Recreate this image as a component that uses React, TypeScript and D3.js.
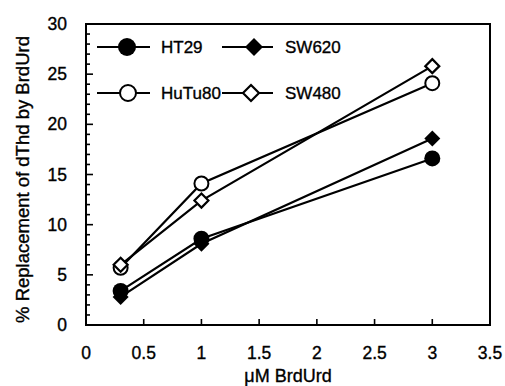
import React from "react";
import * as d3 from "d3";

const doses = [0.3, 1, 3];
const ht29 = [3.4, 8.6, 16.6];
const sw620 = [2.8, 8.1, 18.6];
const hutu80 = [5.7, 14.1, 24.1];
const sw480 = [6.0, 12.4, 25.8];
const xTicks = [0, 0.5, 1, 1.5, 2, 2.5, 3, 3.5];
const xTickLabels = ["0", "0.5", "1", "1.5", "2", "2.5", "3", "3.5"];
const yTicks = [0, 5, 10, 15, 20, 25, 30];
const seriesNames = ["HT29", "SW620", "HuTu80", "SW480"];

const W = 505;
const H = 386;
const L = 86, R = 490, T = 24, B = 325;
const FONT = "'Liberation Sans', Arial, Helvetica, sans-serif";
const TXT = { fill: "#000", stroke: "#000", strokeWidth: 0.35 };

function Marker({ kind, cx, cy, r }: { kind: string; cx: number; cy: number; r: number }) {
  const filled = kind === "fc" || kind === "fd";
  const fill = filled ? "#000" : "#fff";
  if (kind === "fc" || kind === "oc") {
    return <circle cx={cx} cy={cy} r={filled ? r : r - 1} fill={fill} stroke="#000" strokeWidth={filled ? 0 : 2} />;
  }
  const s = filled ? r : r - 1;
  const pts = `${cx},${cy - s} ${cx + s},${cy} ${cx},${cy + s} ${cx - s},${cy}`;
  return <polygon points={pts} fill={fill} stroke="#000" strokeWidth={filled ? 0 : 2.2} strokeLinejoin="miter" />;
}

export default function App() {
  const x = d3.scaleLinear().domain([0, 3.5]).range([L, R]);
  const y = d3.scaleLinear().domain([0, 30]).range([B, T]);
  const line = d3
    .line<[number, number]>()
    .x((d) => x(d[0]))
    .y((d) => y(d[1]));

  const series = [
    { name: seriesNames[0], vals: ht29, kind: "fc" },
    { name: seriesNames[1], vals: sw620, kind: "fd" },
    { name: seriesNames[2], vals: hutu80, kind: "oc" },
    { name: seriesNames[3], vals: sw480, kind: "od" },
  ];

  const minorY = d3.range(0, 31, 1);

  const legend = [
    { s: series[0], lx1: 97, lx2: 150, mx: 127, tx: 161, y: 47 },
    { s: series[1], lx1: 222, lx2: 273, mx: 254, tx: 285, y: 47 },
    { s: series[2], lx1: 97, lx2: 150, mx: 128, tx: 161, y: 93 },
    { s: series[3], lx1: 222, lx2: 273, mx: 251, tx: 285, y: 93 },
  ];

  return (
    <svg width={W} height={H} style={{ position: "absolute", left: 0, top: 0, background: "#fff" }} fontFamily={FONT}>
      <rect x={0} y={0} width={W} height={H} fill="#fff" />
      {minorY.map((v) => (
        <line key={"my" + v} x1={L} x2={L + (v % 5 === 0 ? 7 : 4)} y1={y(v)} y2={y(v)} stroke="#000" strokeWidth={1.6} />
      ))}
      {xTicks.map((v) => (
        <line key={"xt" + v} x1={x(v)} x2={x(v)} y1={B} y2={B - 6} stroke="#000" strokeWidth={1.6} />
      ))}
      <rect x={L} y={T} width={R - L} height={B - T} fill="none" stroke="#000" strokeWidth={2} />
      {yTicks.map((v) => (
        <text key={"yl" + v} x={67} y={y(v)} dy="0.35em" textAnchor="end" fontSize={17.5} {...TXT}>
          {v}
        </text>
      ))}
      {xTicks.map((v, i) => (
        <text key={"xl" + v} x={x(v)} y={353} dy="0.35em" textAnchor="middle" fontSize={17.5} {...TXT}>
          {xTickLabels[i]}
        </text>
      ))}
      <text x={(L + R) / 2} y={382} textAnchor="middle" fontSize={18} {...TXT}>
        μM BrdUrd
      </text>
      <text transform={`translate(29,${(T + B) / 2 + 5}) rotate(-90)`} textAnchor="middle" fontSize={18.5} {...TXT}>
        % Replacement of dThd by BrdUrd
      </text>
      {series.map((s) => (
        <path
          key={"l" + s.name}
          d={line(doses.map((d, i) => [d, s.vals[i]]) as [number, number][]) || ""}
          fill="none"
          stroke="#000"
          strokeWidth={2.2}
        />
      ))}
      {series.map((s) =>
        doses.map((d, i) => <Marker key={s.name + i} kind={s.kind} cx={x(d)} cy={y(s.vals[i])} r={8} />)
      )}
      {legend.map((g) => (
        <g key={"lg" + g.s.name}>
          <line x1={g.lx1} x2={g.lx2} y1={g.y} y2={g.y} stroke="#000" strokeWidth={2} />
          <Marker kind={g.s.kind} cx={g.mx} cy={g.y} r={9} />
          <text x={g.tx} y={g.y} dy="0.35em" fontSize={17} {...TXT}>
            {g.s.name}
          </text>
        </g>
      ))}
    </svg>
  );
}
